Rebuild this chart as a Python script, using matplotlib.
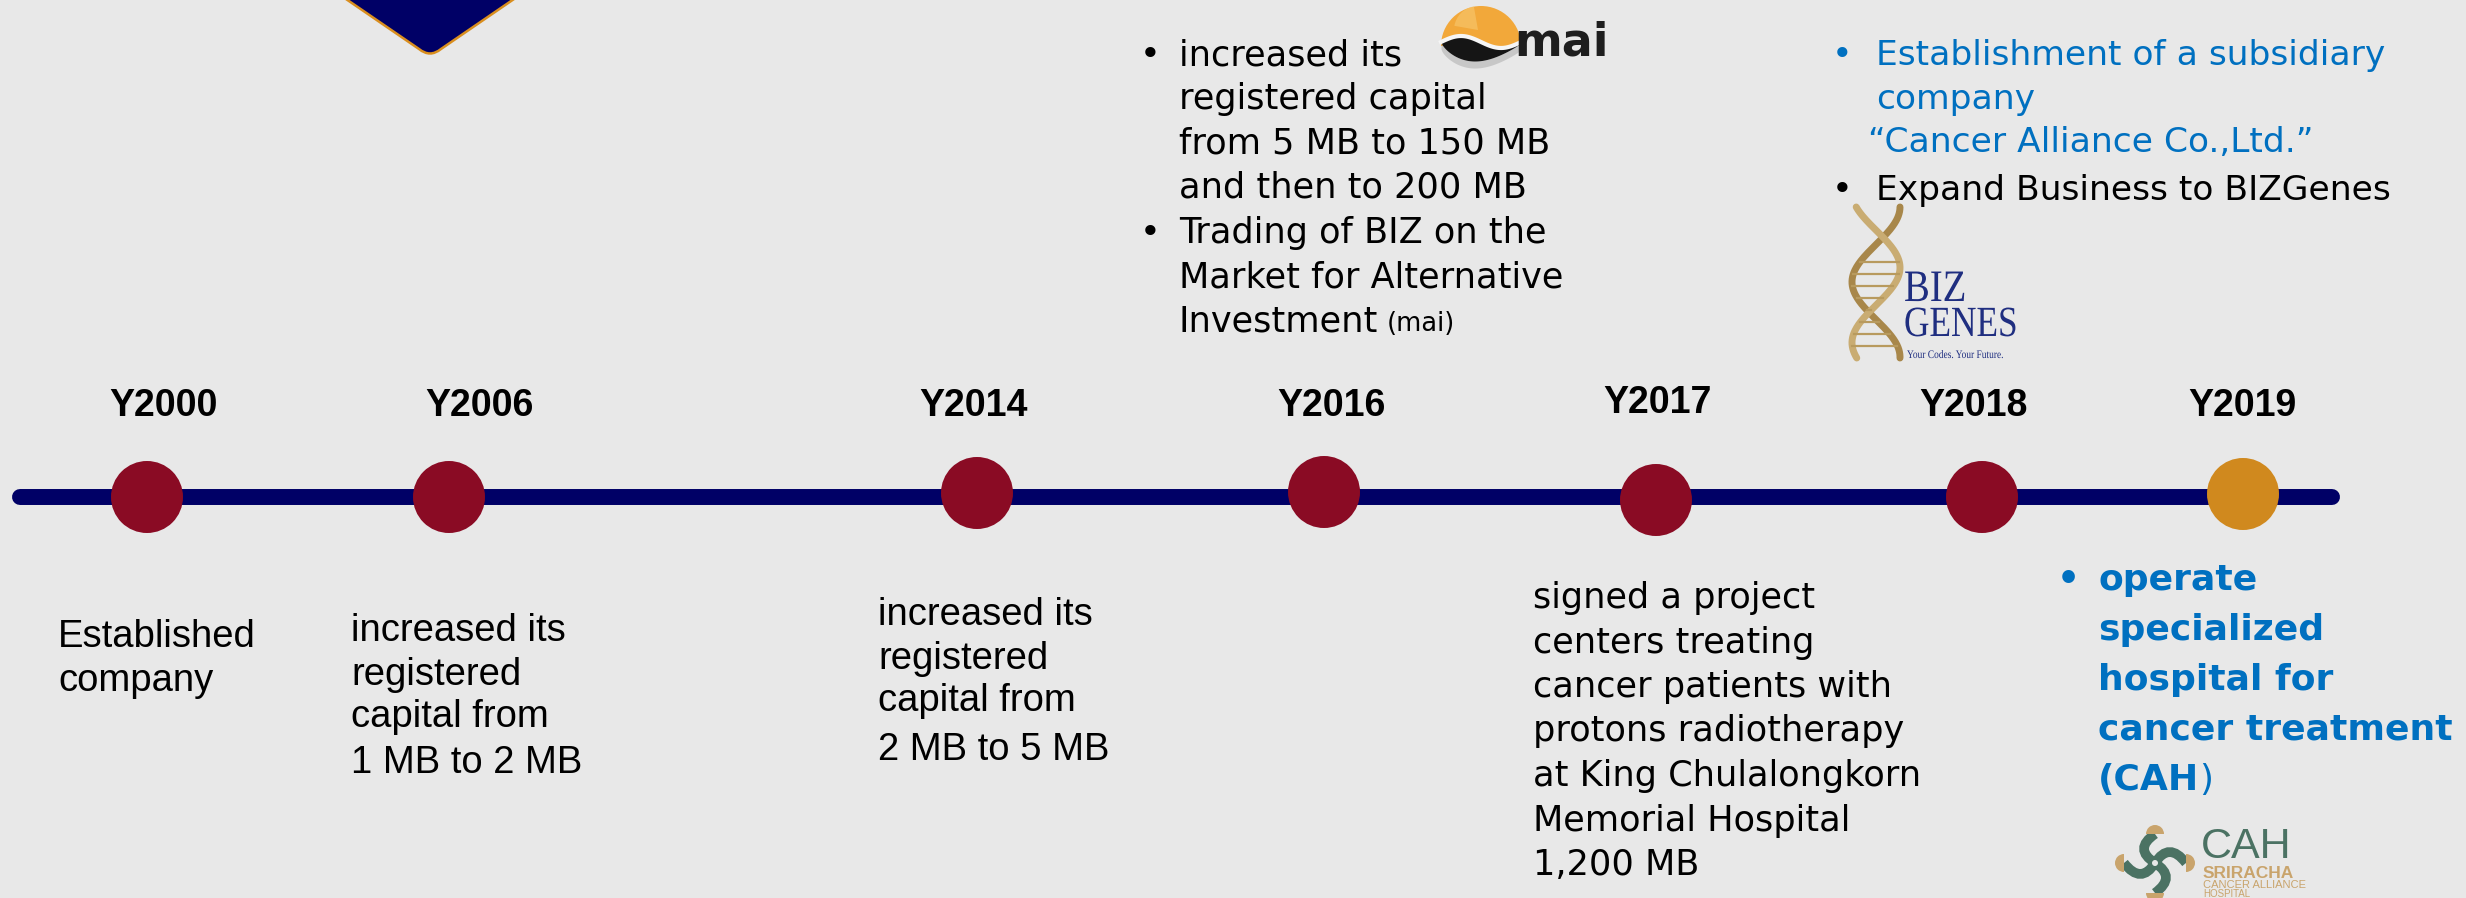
import numpy as np
import matplotlib
matplotlib.use("Agg")
import matplotlib.pyplot as plt
from matplotlib.patches import Circle, PathPatch, Wedge
from matplotlib.path import Path
from matplotlib.textpath import TextPath
from matplotlib.font_manager import FontProperties
from matplotlib.transforms import Affine2D

# ---- chart content ----
years = ["Y2000", "Y2006", "Y2014", "Y2016", "Y2017", "Y2018", "Y2019"]
current_year = "Y2019"

notes_2000 = ["Established", "company"]
notes_2006 = ["increased its", "registered", "capital from", "1 MB to 2 MB"]
notes_2014 = ["increased its", "registered", "capital from", "2 MB to 5 MB"]
notes_2016_a = ["increased its", "registered capital", "from 5 MB to 150 MB", "and then to 200 MB"]
notes_2016_b = ["Trading of BIZ on the", "Market for Alternative", "Investment"]
notes_2016_tag = "(mai)"
notes_2017 = ["signed a project", "centers treating", "cancer patients with",
              "protons radiotherapy", "at King Chulalongkorn", "Memorial Hospital", "1,200 MB"]
notes_2018_a = ["Establishment of a subsidiary", "company", "\u201cCancer Alliance Co.,Ltd.\u201d"]
notes_2018_b = ["Expand Business to BIZGenes"]
notes_2019 = ["operate", "specialized", "hospital for", "cancer treatment", "(CAH"]

# ---- layout (pixels of the 2466x898 canvas, y grows downwards) ----
W, H = 2466, 898
node_x = [147, 449, 977, 1324, 1656, 1982, 2243]
node_y = [497, 497, 493, 492, 500, 497, 494]
label_x = [164, 479, 974, 1332, 1658, 1973, 2242]
label_y = [416, 416, 416, 416, 413, 416, 416]

BG = "#E8E8E8"
NAVY = "#000066"
RED = "#8A0B24"
ORANGE = "#D0891E"
BLUE = "#0070C0"

fig = plt.figure(figsize=(W / 100, H / 100), dpi=100)
fig.patch.set_facecolor(BG)
ax = fig.add_axes([0, 0, 1, 1])
ax.set_xlim(0, W)
ax.set_ylim(H, 0)
ax.axis("off")

BODY = dict(family="DejaVu Sans", fontsize=25.3, color="black")
NARROW = dict(family="Liberation Sans", fontsize=27.5, color="black")


def draw_lines(lines, x, ys, **kw):
    # una linea de texto por baseline
    out = []
    for s, y in zip(lines, ys):
        out.append(ax.text(x, y, s, ha="left", va="baseline", **kw))
    return out


def text_end_x(t):
    r = fig.canvas.get_renderer()
    bb = t.get_window_extent(renderer=r)
    return ax.transData.inverted().transform((bb.x1, bb.y0))[0]


def squeezed_text(s, x, y, size, sx, family, color, weight="normal"):
    # texto como path para poder estrecharlo (logos)
    fp = FontProperties(family=family, weight=weight)
    tp = TextPath((0, 0), s, size=size, prop=fp)
    tr = Affine2D().scale(sx, -1).translate(x, y)
    ax.add_patch(PathPatch(tr.transform_path(tp), facecolor=color, edgecolor="none"))


def bezier(p0, p1, p2, **kw):
    path = Path([p0, p1, p2], [Path.MOVETO, Path.CURVE3, Path.CURVE3])
    ax.add_patch(PathPatch(path, facecolor="none", **kw))


# ---- decorative diamond at the top ----
verts = [(289, -40), (419, 49), (430, 58), (441, 49), (571, -40), (289, -40)]
codes = [Path.MOVETO, Path.LINETO, Path.CURVE3, Path.CURVE3, Path.LINETO, Path.CLOSEPOLY]
ax.add_patch(PathPatch(Path(verts, codes), facecolor=NAVY, edgecolor="#D98E1E", lw=1.8))

# ---- timeline ----
ax.plot([20, 2332], [497, 497], color=NAVY, lw=11.5, solid_capstyle="round", zorder=2)
for yr, x, y in zip(years, node_x, node_y):
    c = ORANGE if yr == current_year else RED
    ax.add_patch(Circle((x, y), 36, facecolor=c, edgecolor="none", zorder=3))
for yr, x, y in zip(years, label_x, label_y):
    ax.text(x, y, yr, ha="center", va="baseline", family="Liberation Sans",
            fontweight="bold", fontsize=27, color="black")

# ---- notes below the line ----
draw_lines(notes_2000, 58, [647, 691], **NARROW)
draw_lines(notes_2006, 351, [641, 685, 727, 773], **NARROW)
draw_lines(notes_2014, 878, [625, 669, 711, 760], **NARROW)
draw_lines(notes_2017, 1533, [608 + 44.5 * i for i in range(len(notes_2017))], **BODY)

# 2019 in bold blue with bullet
ax.text(2068, 590, "\u2022", ha="center", va="baseline", family="DejaVu Sans",
        fontsize=26, fontweight="bold", color=BLUE)
t19 = draw_lines(notes_2019, 2098, [590 + 50 * i for i in range(len(notes_2019))],
                 family="DejaVu Sans", fontsize=26, fontweight="bold", color=BLUE)
ax.text(text_end_x(t19[-1]), 790, ")", ha="left", va="baseline",
        family="DejaVu Sans", fontsize=26, color=BLUE)

# ---- notes above the line ----
ax.text(1150, 65, "\u2022", ha="center", va="baseline", **BODY)
draw_lines(notes_2016_a, 1179, [65, 109, 154, 198], **BODY)
ax.text(1150, 243, "\u2022", ha="center", va="baseline", **BODY)
t16 = draw_lines(notes_2016_b, 1179, [243, 287, 331], **BODY)
ax.text(text_end_x(t16[-1]) + 8, 331, notes_2016_tag, ha="left", va="baseline",
        family="DejaVu Sans", fontsize=18.5, color="black")

ax.text(1842, 65, "\u2022", ha="center", va="baseline", family="DejaVu Sans",
        fontsize=25, color=BLUE)
draw_lines(notes_2018_a[:2], 1876, [65, 109], family="DejaVu Sans", fontsize=24.8, color=BLUE)
draw_lines(notes_2018_a[2:], 1868, [152], family="DejaVu Sans", fontsize=24.8, color=BLUE)
ax.text(1842, 200, "\u2022", ha="center", va="baseline", **BODY)
draw_lines(notes_2018_b, 1876, [200], family="DejaVu Sans", fontsize=24.8, color="black")

# ---- mai logo ----
ax.add_patch(Wedge((1481, 46), 40, 180, 360, facecolor="#F2A83A", edgecolor="none"))
ax.add_patch(Wedge((1478, 30), 24, 190, 260, facecolor="#F8C870", edgecolor="none", alpha=0.6))
wx = np.linspace(1441, 1521, 80)
wt = (wx - 1441) / 80
wave = 42 - 6 * np.sin(2 * np.pi * wt)
bottom = 42 + 24 * np.sin(np.pi * wt) ** 0.7 * (1 - 0.45 * wt)
ax.fill_between(wx, bottom, bottom + 7, color="#A0A0A0", alpha=0.45, lw=0)
ax.fill_between(wx, wave, bottom, color="#151515", lw=0)
ax.plot(wx, wave, color="#F6F6F6", lw=3)
ax.text(1514, 56, "mai", ha="left", va="baseline", family="DejaVu Sans",
        fontweight="bold", fontsize=33, color="#1E1E1E")

# ---- BIZ GENES logo ----
yy = np.linspace(207, 358, 200)
ph = (yy - 207) / 150 * 2 * np.pi
ax.plot(1876 + 24 * np.cos(ph), yy, color="#A8874A", lw=5, solid_capstyle="round")
ax.plot(1876 - 24 * np.cos(ph + 0.6), yy, color="#C9AC72", lw=5, solid_capstyle="round")
for yr_ in np.arange(262, 352, 12):
    p = (yr_ - 207) / 150 * 2 * np.pi
    ax.plot([1876 + 24 * np.cos(p), 1876 - 24 * np.cos(p + 0.6)], [yr_, yr_],
            color="#B89A5E", lw=1.6)
squeezed_text("BIZ", 1904, 301, 45, 0.86, "Liberation Serif", "#1F2E80")
squeezed_text("GENES", 1904, 336, 43, 0.82, "Liberation Serif", "#1F2E80")
squeezed_text("Your Codes. Your Future.", 1907, 358, 11.5, 0.82, "Liberation Serif", "#1F2E80")

# ---- CAH logo ----
GREEN = "#4B7263"
GOLD = "#C9A46C"
cx, cy = 2155, 863
caps = [(cx, cy - 29), (cx + 31, cy), (cx, cy + 30), (cx - 31, cy)]
ctrl = [(cx - 22, cy - 14), (cx + 14, cy - 22), (cx + 22, cy + 14), (cx - 14, cy + 22)]
for (px, py), (qx, qy) in zip(caps, ctrl):
    bezier((px, py), (qx, qy), (cx, cy), edgecolor=GREEN, lw=7, capstyle="butt")
for (ex, ey), a1 in zip(caps, [180, 270, 0, 90]):
    ax.add_patch(Wedge((ex, ey), 9, a1, a1 + 180, facecolor=GOLD, edgecolor="none"))
ax.add_patch(Circle((cx, cy), 3, facecolor=BG, edgecolor="none"))
ax.text(2201, 858, "CAH", ha="left", va="baseline", family="Liberation Sans",
        fontsize=31, color=GREEN)
ax.text(2203, 878, "SRIRACHA", ha="left", va="baseline", family="Liberation Sans",
        fontweight="bold", fontsize=12.5, color=GOLD)
ax.text(2203, 888, "CANCER ALLIANCE", ha="left", va="baseline", family="Liberation Sans",
        fontsize=8, color=GOLD)
ax.text(2203, 897, "HOSPITAL", ha="left", va="baseline", family="Liberation Sans",
        fontsize=7, color=GOLD)

fig.savefig("out.png", dpi=100, facecolor=BG)
